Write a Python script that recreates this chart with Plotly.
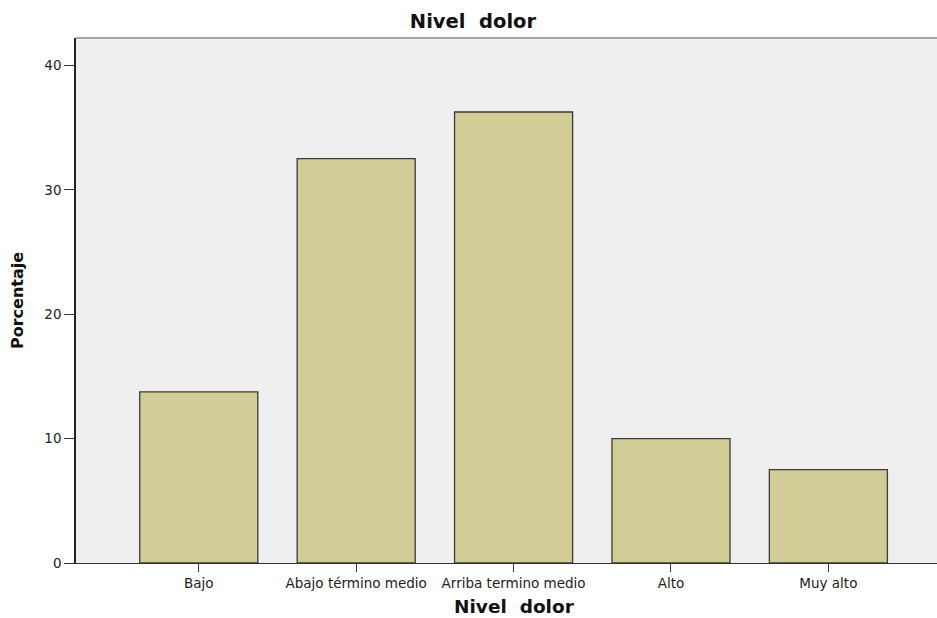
import plotly.graph_objects as go

categories = ["Bajo", "Abajo término medio", "Arriba termino medio", "Alto", "Muy alto"]
percentages = [13.75, 32.5, 36.25, 10.0, 7.5]
y_ticks = [0, 10, 20, 30, 40]

W, H = 937, 618
L, T, B, R = 76, 38, 55, 0
plot_w, plot_h = W - L - R, H - T - B

fig = go.Figure()
fig.add_trace(go.Bar(
    x=categories,
    y=percentages,
    marker=dict(color="#d2cd96", line=dict(color="#3a3a3a", width=1.3)),
    width=0.75,
    hoverinfo="x+y",
))

font = "DejaVu Sans, Verdana, sans-serif"
fig.update_layout(
    width=W, height=H,
    margin=dict(l=L, r=R, t=T, b=B),
    paper_bgcolor="white",
    plot_bgcolor="#efefef",
    showlegend=False,
    font=dict(family=font, size=13.5, color="#222"),
    title=dict(text="<b>Nivel  dolor</b>", x=473/W, xanchor="center",
               y=1 - 21.5/H, yanchor="middle", yref="container",
               font=dict(size=19.5, color="#111", family=font)),
    xaxis=dict(
        type="category",
        range=[-0.78, 4.69],
        showgrid=False,
        showline=True, linecolor="#333", linewidth=1.3,
        ticks="outside", ticklen=8, tickcolor="#333", tickwidth=1.3,
        tickfont=dict(size=13.5, color="#222"),
        zeroline=False,
    ),
    yaxis=dict(
        range=[0, 42.2],
        tickvals=y_ticks,
        showgrid=False,
        showline=True, linecolor="#222", linewidth=1.5,
        ticks="outside", ticklen=10, tickcolor="#333", tickwidth=1.3,
        tickfont=dict(size=13.5, color="#222"),
        zeroline=False,
    ),
    annotations=[
        dict(text="<b>Nivel  dolor</b>", xref="paper", yref="paper",
             x=(514 - L) / plot_w, y=-(606 - (H - B)) / plot_h, xanchor="center", yanchor="middle",
             showarrow=False, font=dict(size=18.5, color="#111", family=font)),
        dict(text="<b>Porcentaje</b>", xref="paper", yref="paper",
             x=(17.5 - L) / plot_w, y=0.5, xanchor="center", yanchor="middle",
             textangle=-90, showarrow=False, font=dict(size=16, color="#111", family=font)),
    ],
    shapes=[dict(type="line", xref="paper", yref="paper", x0=0, x1=1, y0=1, y1=1,
                 line=dict(color="#888", width=1.5))],
    bargap=0.25,
)

fig.write_html(
    "out.html",
    config={"displayModeBar": False},
    post_script="document.body.style.margin='0';document.body.style.overflow='hidden';",
)
